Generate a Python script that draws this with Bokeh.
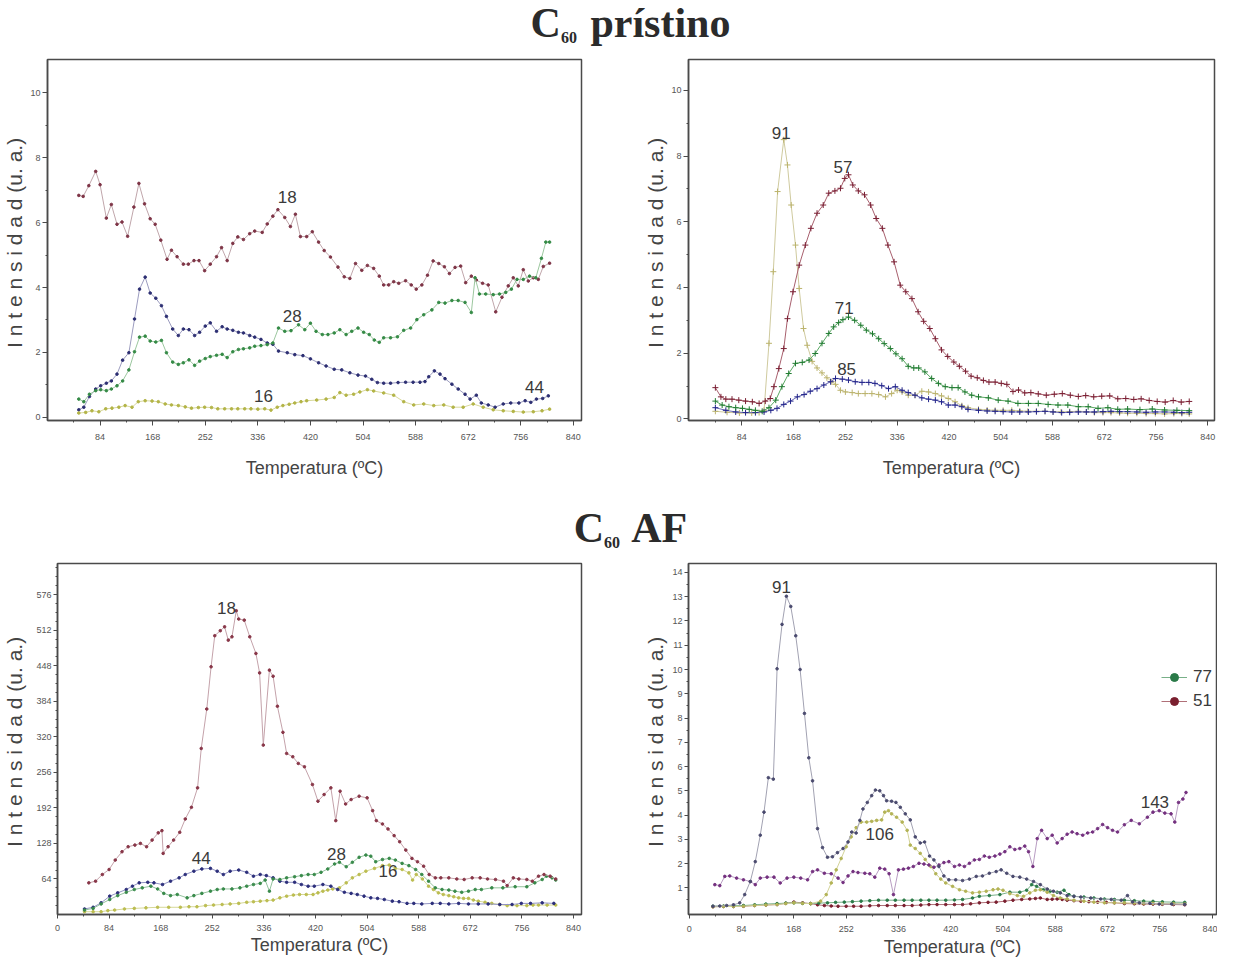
from bokeh.plotting import figure
from bokeh.models import FixedTicker, Div, Legend, LegendItem, Range1d
from bokeh.layouts import column, row
from bokeh.embed import file_html
from bokeh.resources import INLINE
from bokeh.core.properties import value

# ---------------- data (temperature ºC, intensity u.a.) ----------------
# Panel 1: C60 prístino, m/z 18, 44, 28, 16
P1_18 = [(50,6.84),(57,6.81),(66,7.14),(77,7.58),(84,7.17),(94,6.14),(102,6.56),(111,5.95),(119,6.02),(128,5.58),
         (138,6.48),(146,7.21),(155,6.58),(164,6.12),(172,5.95),(181,5.46),(191,4.87),(198,5.15),(207,4.95),(217,4.72),
         (225,4.72),(234,4.83),(242,4.83),(251,4.52),(260,4.72),(270,4.95),(278,5.23),(287,4.83),(296,5.36),(304,5.56),
         (313,5.48),(323,5.66),(331,5.74),(343,5.70),(351,5.96),(360,6.20),(368,6.40),(379,6.16),(388,5.88),(396,6.26),
         (404,5.57),(414,5.57),(423,5.72),(433,5.40),(442,5.14),(452,4.94),(464,4.63),(474,4.33),(483,4.28),(492,4.74),
         (502,4.53),(511,4.68),(521,4.59),(530,4.35),(537,4.08),(545,4.08),(553,4.18),(561,4.13),(572,4.21),(581,4.08),
         (589,3.95),(598,4.08),(607,4.38),(616,4.82),(625,4.74),(634,4.64),(642,4.43),(651,4.62),(660,4.66),(668,4.15),
         (677,4.35),(685,4.23),(695,4.13),(704,4.08),(716,3.25),(726,3.70),(736,4.05),(744,4.30),(752,4.05),(760,4.55),
         (768,4.20),(776,4.30),(784,4.25),(792,4.65),(802,4.75)]
P1_44 = [(50,0.23),(58,0.31),(67,0.64),(77,0.87),(85,0.97),(94,1.05),(102,1.12),(111,1.33),(120,1.76),(130,1.99),
         (139,3.03),(147,3.95),(156,4.32),(164,3.83),(173,3.67),(182,3.44),(190,3.11),(200,2.72),(209,2.52),(217,2.72),
         (226,2.70),(235,2.52),(243,2.62),(252,2.81),(260,2.91),(270,2.65),(279,2.79),(287,2.72),(296,2.68),(305,2.62),
         (313,2.60),(323,2.52),(331,2.47),(341,2.40),(351,2.29),(360,2.25),(369,2.04),(383,1.99),(395,1.93),(408,1.90),
         (420,1.80),(433,1.68),(445,1.58),(458,1.48),(470,1.46),(483,1.37),(496,1.30),(508,1.27),(518,1.17),(527,1.07),
         (537,1.05),(548,1.05),(560,1.07),(572,1.08),(584,1.08),(595,1.08),(603,1.10),(609,1.25),(618,1.43),(627,1.33),
         (635,1.19),(646,1.02),(656,0.87),(667,0.71),(675,0.56),(685,0.68),(693,0.44),(704,0.38),(715,0.31),(728,0.41),
         (740,0.44),(753,0.44),(763,0.51),(772,0.46),(781,0.56),(791,0.58),(800,0.66)]
P1_28 = [(50,0.56),(58,0.48),(67,0.71),(77,0.82),(85,0.85),(94,0.82),(102,0.87),(111,0.97),(120,1.12),(130,1.46),
         (139,2.02),(147,2.47),(156,2.50),(164,2.35),(173,2.32),(182,2.37),(190,1.99),(200,1.70),(209,1.63),(217,1.68),
         (226,1.77),(235,1.60),(243,1.73),(252,1.81),(260,1.87),(270,1.91),(279,1.94),(287,1.84),(296,2.02),(305,2.09),
         (313,2.11),(323,2.14),(331,2.19),(341,2.21),(351,2.24),(360,2.29),(369,2.75),(379,2.65),(389,2.67),(401,2.85),
         (411,2.70),(420,2.90),(429,2.65),(439,2.55),(448,2.55),(458,2.60),(467,2.70),(477,2.55),(486,2.65),(496,2.75),
         (505,2.62),(514,2.55),(522,2.38),(530,2.31),(537,2.45),(548,2.45),(559,2.48),(569,2.68),(580,2.75),(590,3.01),
         (601,3.16),(614,3.31),(625,3.54),(635,3.52),(646,3.60),(656,3.60),(667,3.54),(677,3.23),(683,4.30),(690,3.80),
         (700,3.80),(712,3.78),(722,3.80),(732,3.85),(741,3.95),(750,4.25),(760,4.25),(770,4.35),(780,4.30),(789,4.90),
         (796,5.40),(802,5.40)]
P1_16 = [(50,0.13),(61,0.15),(71,0.20),(82,0.17),(93,0.26),(103,0.28),(114,0.31),(124,0.36),(135,0.31),(145,0.48),
         (156,0.51),(167,0.50),(177,0.48),(188,0.41),(198,0.38),(209,0.36),(220,0.32),(230,0.28),(241,0.30),(251,0.31),
         (262,0.30),(272,0.26),(283,0.26),(294,0.26),(304,0.26),(315,0.26),(325,0.26),(336,0.25),(347,0.26),(357,0.22),
         (367,0.31),(376,0.36),(386,0.40),(395,0.44),(405,0.48),(414,0.51),(430,0.53),(445,0.56),(458,0.61),(467,0.76),
         (477,0.68),(489,0.71),(499,0.78),(511,0.85),(521,0.81),(537,0.75),(553,0.68),(569,0.48),(585,0.38),(601,0.41),
         (617,0.36),(633,0.38),(648,0.31),(664,0.31),(680,0.41),(696,0.31),(712,0.23),(728,0.20),(744,0.18),(760,0.16),
         (776,0.17),(790,0.20),(802,0.25)]

# Panel 2: C60 prístino, m/z 91, 57, 71, 85
P2_57 = [(41,0.95),(50,0.67),(58,0.60),(68,0.60),(79,0.57),(90,0.54),(101,0.52),(112,0.47),(122,0.54),(130,0.62),
         (136,0.98),(144,1.53),(152,2.14),(158,3.05),(167,3.87),(177,4.68),(187,5.29),(196,5.80),(206,6.26),(216,6.51),
         (225,6.87),(235,6.94),(244,7.02),(251,7.32),(257,7.43),(264,7.12),(273,6.94),(283,6.82),(293,6.51),(302,6.10),
         (312,5.80),(321,5.29),(331,4.78),(341,4.07),(350,3.87),(360,3.66),(370,3.26),(379,2.97),(389,2.75),(398,2.44),
         (408,2.10),(418,1.90),(428,1.73),(437,1.60),(447,1.45),(456,1.30),(466,1.25),(476,1.17),(485,1.12),(495,1.12),
         (505,1.08),(514,1.05),(524,0.83),(533,0.88),(543,0.79),(553,0.80),(565,0.76),(578,0.72),(591,0.75),(604,0.77),
         (617,0.72),(630,0.68),(642,0.71),(655,0.67),(668,0.69),(681,0.70),(694,0.61),(707,0.62),(720,0.59),(732,0.61),
         (745,0.56),(758,0.53),(771,0.51),(784,0.56),(797,0.51),(810,0.53)]
P2_91 = [(41,0.23),(60,0.20),(80,0.18),(100,0.18),(112,0.19),(120,0.26),(128,2.30),(135,4.48),(142,6.92),(152,8.50),
         (158,7.73),(164,6.51),(171,5.29),(177,3.97),(184,2.75),(190,2.24),(198,1.75),(206,1.55),(214,1.40),(222,1.25),
         (230,1.13),(236,1.05),(244,0.87),(252,0.82),(263,0.80),(273,0.77),(284,0.77),(295,0.77),(306,0.74),(317,0.67),
         (327,0.77),(336,0.87),(344,0.82),(354,0.72),(365,0.72),(376,0.84),(387,0.82),(398,0.77),(408,0.70),(419,0.62),
         (430,0.52),(441,0.40),(451,0.34),(468,0.29),(482,0.27),(495,0.26),(508,0.26),(522,0.26),(535,0.24),(548,0.23),
         (562,0.23),(576,0.23),(589,0.22),(602,0.21),(616,0.22),(630,0.23),(643,0.21),(656,0.19),(670,0.19),(683,0.19),
         (697,0.18),(710,0.17),(725,0.17),(740,0.16),(755,0.16),(770,0.15),(785,0.16),(798,0.16),(810,0.15)]
P2_71 = [(41,0.54),(52,0.42),(63,0.37),(74,0.34),(85,0.32),(96,0.29),(106,0.26),(117,0.23),(128,0.34),(139,0.57),
         (149,0.98),(160,1.38),(171,1.69),(182,1.72),(193,1.79),(203,1.99),(214,2.30),(225,2.60),(233,2.80),(241,2.93),
         (248,3.02),(257,3.10),(267,3.00),(277,2.85),(286,2.70),(296,2.59),(306,2.44),(315,2.29),(325,2.14),(334,1.98),
         (344,1.83),(354,1.60),(363,1.55),(371,1.55),(381,1.43),(392,1.23),(403,1.08),(414,0.98),(425,0.95),(435,0.95),
         (446,0.82),(457,0.72),(468,0.67),(484,0.64),(500,0.57),(516,0.54),(532,0.47),(549,0.47),(565,0.47),(581,0.44),
         (597,0.42),(613,0.42),(630,0.37),(646,0.37),(662,0.32),(678,0.34),(694,0.29),(710,0.30),(730,0.28),(750,0.30),
         (770,0.27),(790,0.26),(810,0.25)]
P2_85 = [(41,0.34),(58,0.26),(74,0.21),(90,0.19),(106,0.19),(120,0.21),(131,0.26),(141,0.32),(152,0.44),(163,0.54),
         (174,0.67),(185,0.74),(195,0.84),(206,0.92),(217,1.03),(228,1.13),(236,1.23),(247,1.21),(257,1.18),(268,1.13),
         (279,1.11),(290,1.11),(300,1.08),(311,1.01),(322,0.92),(333,0.98),(344,0.87),(354,0.80),(365,0.72),(376,0.64),
         (387,0.60),(398,0.57),(408,0.52),(419,0.42),(430,0.42),(441,0.37),(451,0.29),(468,0.26),(482,0.24),(495,0.23),
         (508,0.22),(522,0.21),(535,0.21),(549,0.21),(562,0.22),(576,0.23),(589,0.21),(603,0.19),(616,0.20),(630,0.21),
         (643,0.21),(656,0.21),(670,0.22),(683,0.23),(697,0.22),(710,0.22),(725,0.21),(740,0.20),(755,0.21),(770,0.21),
         (785,0.20),(798,0.19),(810,0.20)]

# Panel 3: C60 AF, m/z 18, 44, 28, 16
P3_18 = [(51,57),(62,60),(73,72),(84,81),(94,98),(105,113),(115,122),(126,125),(135,128),(145,122),(154,134),
         (164,147),(170,151),(172,110),(180,122),(189,134),(199,148),(208,172),(218,193),(228,228),(234,299),(243,370),
         (250,446),(256,502),(265,511),(272,518),(278,494),(284,500),(291,547),(295,532),(304,530),(313,500),(323,470),
         (329,435),(335,305),(345,440),(351,429),(358,375),(367,328),(373,290),(383,284),(392,272),(402,266),(415,234),
         (424,204),(434,216),(445,228),(453,169),(460,222),(469,199),(478,207),(491,213),(504,210),(513,187),(519,169),
         (529,163),(538,154),(548,142),(557,131),(567,116),(577,101),(586,95),(596,87),(605,72),(615,66),(624,66),
         (637,66),(650,64),(662,63),(675,66),(688,66),(700,64),(713,63),(726,60),(732,52),(742,66),(751,64),(764,63),
         (773,60),(783,69),(792,72),(802,69),(811,64)]
P3_44 = [(44,10),(58,13),(71,21),(85,33),(98,39),(112,45),(122,51),(133,57),(147,58),(157,57),(171,54),(184,60),
         (198,66),(208,72),(222,78),(235,82),(249,83),(260,78),(270,72),(281,78),(295,80),(308,76),(319,69),(330,72),
         (340,70),(351,66),(362,60),(373,58),(386,58),(397,54),(408,51),(418,51),(432,54),(445,51),(456,45),(467,40),
         (478,38),(488,36),(499,33),(510,30),(521,29),(532,27),(545,24),(556,23),(569,20),(580,20),(593,19),(610,20),
         (623,20),(637,19),(653,20),(669,19),(685,19),(701,19),(720,18),(740,18),(755,20),(770,20),(789,21),(808,20)]
P3_28 = [(44,8),(58,11),(71,19),(85,27),(98,34),(112,40),(125,45),(138,48),(152,51),(163,46),(173,38),(184,34),
         (195,36),(211,30),(222,34),(235,38),(249,42),(260,45),(270,46),(284,46),(297,48),(308,51),(319,54),(330,56),
         (338,62),(345,42),(351,64),(362,63),(373,66),(386,68),(397,70),(408,72),(418,72),(429,76),(440,82),(451,91),
         (459,94),(470,86),(480,94),(491,103),(502,107),(510,105),(518,95),(529,99),(540,101),(550,98),(561,92),
         (572,88),(583,81),(593,72),(604,60),(615,48),(626,45),(637,44),(647,42),(658,40),(669,42),(680,45),(690,45),
         (707,48),(725,48),(745,50),(764,50),(777,57),(789,63),(796,69),(805,66),(811,62)]
P3_16 = [(44,5),(58,5),(71,5),(82,7),(93,8),(109,10),(125,11),(144,12),(163,13),(181,13),(200,13),(214,14),(227,14),
         (241,16),(254,17),(268,18),(281,19),(295,20),(308,22),(319,23),(330,24),(341,25),(351,26),(362,30),(373,33),
         (384,35),(394,36),(405,36),(416,36),(424,39),(432,42),(440,44),(448,46),(459,48),(470,57),(480,66),(491,72),
         (502,78),(516,83),(529,88),(540,89),(550,83),(561,81),(572,75),(578,62),(584,72),(594,64),(604,51),(612,45),
         (620,39),(628,36),(637,34),(645,32),(653,30),(661,29),(669,29),(677,26),(685,24),(696,22),(707,20),(720,18),
         (732,16),(748,16),(764,16),(774,17),(783,17),(797,17),(811,17)]

# Panel 4: C60 AF, m/z 91, 106, 143, 77, 51
P4_91 = [(38,0.24),(49,0.25),(60,0.27),(71,0.30),(81,0.38),(89,0.72),(98,1.26),(106,2.08),(114,3.17),(120,4.12),
         (127,5.54),(135,5.48),(141,10.03),(149,11.86),(156,13.02),(163,12.60),(171,11.39),(178,10.00),(185,8.19),
         (192,6.36),(198,5.41),(206,3.44),(214,2.66),(222,2.26),(230,2.28),(238,2.45),(247,2.62),(255,2.89),(261,3.30),
         (268,3.26),(274,3.78),(279,4.25),(286,4.52),(293,4.80),(299,5.03),(306,5.00),(312,4.80),(317,4.59),(325,4.57),
         (332,4.52),(339,4.32),(347,4.05),(355,3.80),(363,3.10),(371,2.85),(378,2.89),(386,2.31),(393,2.15),(401,1.88),
         (409,1.49),(417,1.33),(428,1.33),(439,1.30),(450,1.36),(461,1.47),(471,1.49),(482,1.60),(493,1.67),(501,1.74),
         (510,1.60),(520,1.47),(531,1.44),(542,1.36),(553,1.26),(564,1.13),(575,0.95),(585,0.86),(596,0.79),(607,0.68),
         (618,0.65),(629,0.62),(645,0.58),(661,0.54),(678,0.52),(694,0.49),(704,0.68),(712,0.42),(723,0.38),(740,0.36),
         (755,0.33),(775,0.33),(796,0.32)]
P4_106 = [(38,0.22),(55,0.23),(71,0.23),(87,0.24),(105,0.27),(123,0.29),(141,0.31),(155,0.35),(168,0.38),(182,0.36),
          (195,0.35),(211,0.45),(220,0.72),(228,1.20),(236,1.74),(244,2.21),(252,2.69),(260,3.10),(268,3.48),(276,3.71),
          (285,3.71),(293,3.74),(301,3.78),(309,3.80),(314,4.12),(320,4.18),(325,4.05),(333,3.91),(342,3.71),(350,3.37),
          (355,2.76),(363,2.62),(371,2.42),(379,2.17),(388,1.88),(396,1.58),(404,1.36),(412,1.20),(423,1.06),(434,0.92),
          (444,0.86),(455,0.79),(466,0.82),(477,0.86),(488,0.92),(496,0.95),(504,0.90),(515,0.76),(527,0.68),(537,0.65),
          (547,0.79),(556,0.90),(564,0.92),(575,0.82),(585,0.68),(596,0.58),(607,0.54),(618,0.49),(634,0.45),(650,0.41),
          (667,0.38),(683,0.38),(699,0.38),(715,0.37),(730,0.36),(745,0.36),(760,0.35),(778,0.35),(796,0.34)]
P4_143 = [(41,1.13),(49,1.09),(57,1.47),(65,1.49),(76,1.40),(87,1.33),(98,1.26),(106,1.13),(114,1.40),(125,1.44),
          (136,1.44),(146,1.20),(157,1.40),(168,1.44),(179,1.40),(190,1.33),(198,1.67),(206,1.74),(217,1.60),(228,1.58),
          (239,1.40),(247,1.22),(255,1.49),(263,1.67),(271,1.63),(282,1.60),(290,1.58),(298,1.44),(306,1.81),(314,1.77),
          (321,1.58),(328,0.72),(336,1.74),(344,1.77),(352,1.81),(360,1.88),(369,2.01),(377,1.98),(385,1.94),(393,1.85),
          (401,1.94),(409,2.04),(417,2.08),(426,1.88),(434,1.94),(442,1.88),(450,2.01),(458,2.15),(466,2.17),(474,2.31),
          (482,2.26),(491,2.31),(499,2.39),(507,2.49),(515,2.69),(523,2.58),(531,2.62),(539,2.72),(545,2.49),(552,1.88),
          (559,3.03),(566,3.37),(575,3.03),(583,3.17),(591,2.85),(599,3.03),(607,3.21),(615,3.30),(623,3.23),(632,3.17),
          (640,3.26),(648,3.30),(656,3.44),(664,3.61),(672,3.48),(680,3.37),(688,3.30),(699,3.60),(710,3.78),(723,3.64),
          (736,3.91),(745,4.12),(755,4.18),(764,4.08),(774,4.05),(780,3.71),(786,4.52),(793,4.66),(798,4.93)]
P4_77 = [(38,0.24),(55,0.25),(71,0.26),(87,0.27),(105,0.30),(123,0.33),(141,0.35),(155,0.37),(168,0.38),(182,0.36),
         (195,0.35),(208,0.37),(222,0.38),(235,0.40),(249,0.41),(262,0.43),(276,0.45),(290,0.47),(304,0.49),(318,0.49),
         (331,0.49),(345,0.49),(358,0.49),(372,0.49),(385,0.49),(398,0.49),(412,0.49),(426,0.50),(439,0.52),(455,0.58),
         (466,0.65),(482,0.68),(499,0.72),(515,0.82),(531,0.82),(542,0.90),(550,1.13),(558,1.06),(569,0.92),(580,0.86),
         (591,0.82),(602,0.90),(610,0.72),(618,0.65),(634,0.62),(650,0.58),(667,0.54),(683,0.52),(699,0.49),(715,0.47),
         (730,0.45),(745,0.44),(760,0.42),(778,0.41),(796,0.40)]
P4_51 = [(38,0.22),(55,0.23),(71,0.23),(87,0.24),(105,0.27),(123,0.29),(141,0.31),(155,0.36),(168,0.41),(182,0.38),
         (195,0.35),(206,0.30),(217,0.27),(228,0.25),(239,0.24),(252,0.24),(264,0.24),(276,0.24),(290,0.26),(304,0.27),
         (318,0.27),(331,0.27),(345,0.27),(358,0.27),(372,0.29),(385,0.31),(398,0.31),(412,0.31),(426,0.31),(439,0.31),
         (452,0.34),(466,0.38),(480,0.40),(493,0.41),(507,0.45),(520,0.49),(534,0.52),(547,0.54),(556,0.56),(564,0.58),
         (575,0.52),(583,0.53),(591,0.54),(599,0.52),(607,0.49),(618,0.47),(629,0.45),(642,0.43),(656,0.41),(670,0.40),
         (683,0.38),(699,0.35),(715,0.34),(730,0.33),(745,0.33),(760,0.32),(778,0.31),(796,0.30)]

# Peak annotations (m/z numbers written on the curves)
LBL_P1 = [("18", 383, 6.80), ("28", 391, 3.12), ("16", 345, 0.66), ("44", 778, 0.92)]
LBL_P2 = [("91", 148, 8.70), ("57", 248, 7.68), ("71", 250, 3.36), ("85", 254, 1.53)]
LBL_P3 = [("18", 275, 552), ("44", 234, 101), ("28", 454, 109), ("16", 538, 78)]
LBL_P4 = [("91", 148, 13.40), ("106", 306, 3.23), ("143", 748, 4.55)]

X_MAJOR = [84 * k for k in range(1, 11)]
X_MINOR = [42 + 84 * k for k in range(10)]

SANS = "Liberation Sans"
AX = "#4a4a4a"


def base_fig(w, h, bl, br, bt, bb, xr, yr, xt, yt, ym, ylab_standoff, xlab_standoff, xtick_standoff, tick_out, xlab_size):
    p = figure(width=w, height=h, x_range=Range1d(*xr), y_range=Range1d(*yr),
               output_backend="svg", toolbar_location=None, title=None,
               min_border_left=bl, min_border_right=br, min_border_top=bt, min_border_bottom=bb)
    p.xgrid.visible = False
    p.ygrid.visible = False
    p.outline_line_color = AX
    p.outline_line_width = 1.5
    p.outline_line_alpha = 1.0
    for ax in (p.xaxis[0], p.yaxis[0]):
        ax.axis_line_color = AX
        ax.axis_line_width = 1.5
        ax.major_tick_line_color = AX
        ax.minor_tick_line_color = AX
        ax.major_tick_in = 0
        ax.minor_tick_in = 0
        ax.major_tick_out = tick_out
        ax.minor_tick_out = 2
        ax.major_label_text_font = SANS
        ax.major_label_text_font_size = "9px"
        ax.major_label_text_color = "#555555"
        ax.axis_label_text_font_style = "normal"
        ax.axis_label_text_color = "#444444"
    p.xaxis.ticker = FixedTicker(ticks=xt, minor_ticks=X_MINOR)
    p.yaxis.ticker = FixedTicker(ticks=yt, minor_ticks=ym)
    p.xaxis.axis_label = "Temperatura (ºC)"
    p.xaxis.axis_label_text_font = SANS
    p.xaxis.axis_label_text_font_size = xlab_size
    p.xaxis.major_label_standoff = xtick_standoff
    p.xaxis.axis_label_standoff = xlab_standoff
    p.yaxis.axis_label = "I n t e n s i d a d  (u. a.)"
    p.yaxis.axis_label_text_font = SANS
    p.yaxis.axis_label_text_font_size = "21px"
    p.yaxis.major_label_standoff = 2
    p.yaxis.axis_label_standoff = ylab_standoff
    return p


def draw(p, pts, line_color, mark_color, marker="circle"):
    xs = [a for a, b in pts]
    ys = [b for a, b in pts]
    ln = p.line(xs, ys, line_color=line_color, line_width=1)
    if marker == "cross":
        mk = p.scatter(xs, ys, marker="cross", size=6, line_color=mark_color, line_width=1)
    else:
        mk = p.scatter(xs, ys, marker="circle", size=2.6, fill_color=mark_color, line_color=mark_color)
    return ln, mk


def labels(p, lbl):
    p.text(x=[b for a, b, c in lbl], y=[c for a, b, c in lbl], text=[a for a, b, c in lbl],
           text_font=value(SANS), text_font_size="17px", text_color="#3a3a3a",
           text_align="center", text_baseline="middle")


# ---------------- panel 1 ----------------
p1 = base_fig(607, 437, 43, 26, 6, 67, (0, 853), (-0.1, 11.03), X_MAJOR,
              [0, 2, 4, 6, 8, 10], [1, 3, 5, 7, 9], 1, 15, 8, 5, "18px")
draw(p1, P1_18, "#c0a6ab", "#7e3446")
draw(p1, P1_44, "#9c9cbf", "#2c2e72")
draw(p1, P1_28, "#9cc79f", "#348a45")
draw(p1, P1_16, "#d8d99c", "#b3b446")
labels(p1, LBL_P1)

# ---------------- panel 2 ----------------
p2 = base_fig(610, 437, 81, 3, 9, 67, (-2.6, 851), (-0.05, 10.94), X_MAJOR,
              [0, 2, 4, 6, 8, 10], [1, 3, 5, 7, 9], 1, 15, 8, 5, "18px")
draw(p2, P2_91, "#cfca9e", "#bbb36c", "cross")
draw(p2, P2_85, "#6b6bb5", "#22248a", "cross")
draw(p2, P2_71, "#5aa863", "#1f7a30", "cross")
draw(p2, P2_57, "#a8606e", "#7a1f33", "cross")
labels(p2, LBL_P2)

# ---------------- panel 3 ----------------
Y3 = [64 * k for k in range(1, 10)]
Y3m = [16 * k for k in range(1, 40) if k % 4 != 0]
p3 = base_fig(607, 409, 51, 26, 13, 43, (0, 853), (0, 632), [0] + X_MAJOR,
              Y3, Y3m, 7, 1, 6, 4, "18px")
draw(p3, P3_16, "#d6d896", "#bcbd50")
draw(p3, P3_44, "#9294c2", "#2b2d7a")
draw(p3, P3_28, "#93c39d", "#388a4a")
draw(p3, P3_18, "#c4a2aa", "#883648")
labels(p3, LBL_P3)

# ---------------- panel 4 ----------------
Y4 = list(range(1, 15))
Y4m = [k + 0.5 for k in range(0, 14)]
p4 = base_fig(610, 409, 81, 1, 12, 45, (-1.3, 847), (-0.1, 14.37), [0] + X_MAJOR,
              Y4, Y4m, 2, 2, 7, 4, "18px")
r51 = draw(p4, P4_51, "#b07078", "#7a1f2f")
r77 = draw(p4, P4_77, "#78b088", "#2a7a48")
draw(p4, P4_106, "#d3d398", "#b3b355")
draw(p4, P4_143, "#b89cc2", "#74307f")
draw(p4, P4_91, "#a2a2b2", "#4a4a6e")
labels(p4, LBL_P4)
leg = Legend(items=[LegendItem(label="77", renderers=list(r77)),
                    LegendItem(label="51", renderers=list(r51))],
             location=(473, 203), background_fill_alpha=0, border_line_alpha=0,
             label_text_font=SANS, label_text_font_size="17px", label_text_color="#3a3a3a",
             glyph_width=26, glyph_height=20, label_standoff=6, spacing=4, padding=0, margin=0)
p4.add_layout(leg)


def title_div(main, height, pad_top):
    html = ('<div style="width:1217px;height:%dpx;box-sizing:border-box;padding-top:%dpx;padding-left:44px;'
            'text-align:center;font-family:\'Liberation Serif\',serif;font-weight:bold;font-size:42px;'
            'line-height:42px;color:#2b2b2b;white-space:nowrap;overflow:hidden">C<span style="font-size:16px;'
            'position:relative;top:6px;margin-right:3px">60</span>%s</div>') % (height, pad_top, main)
    return Div(text=html, width=1217, height=height, margin=0)


div1 = title_div(" prístino", 50, 2)
div2 = title_div(" AF", 63, 20)

layout = column(div1, row(p1, p2), div2, row(p3, p4))
open("out.html", "w").write(file_html(layout, INLINE, "C60"))
